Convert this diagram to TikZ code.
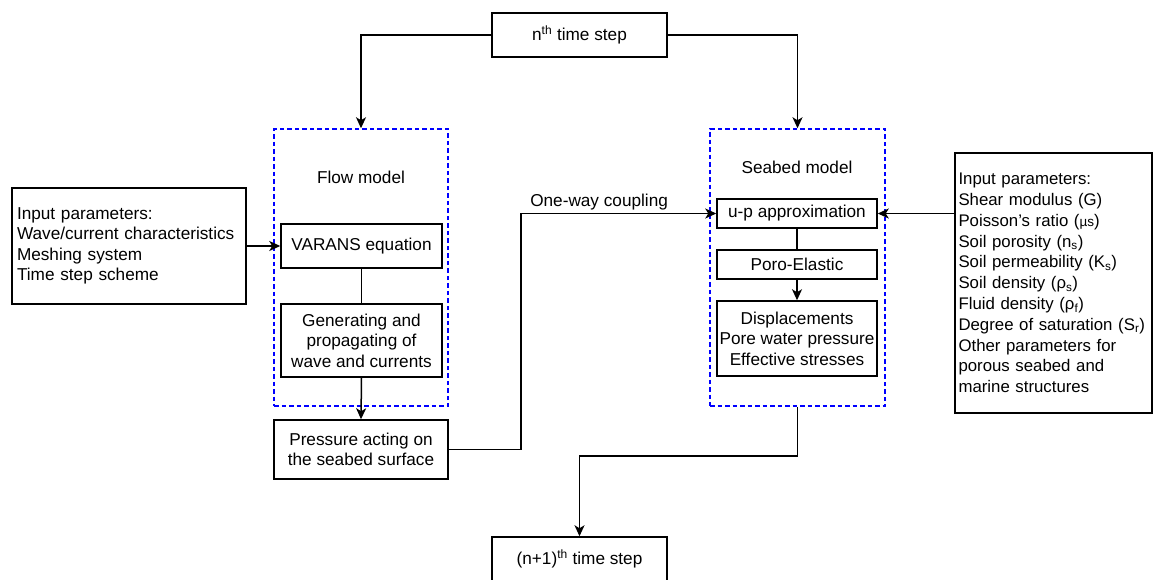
\documentclass[tikz,border=0pt]{standalone}
\usepackage{fontspec}
\setmainfont{Liberation Sans}
\usetikzlibrary{arrows.meta}

\begin{document}
\begin{tikzpicture}[x=1pt,y=-1pt,
    box/.style={draw,line width=1.5pt,inner sep=0pt,align=center,font=\fontsize{17.2}{20.5}\selectfont},
    model/.style={draw=blue,line width=1.5pt,dash pattern=on 4.5pt off 3pt,inner sep=0pt},
    label/.style={inner sep=0pt,font=\fontsize{17.2}{20.5}\selectfont},
    link/.style={line width=1.5pt},
    flow/.style={line width=1.5pt,-{Stealth[length=11pt,width=10pt,inset=3pt]}}]
    \useasboundingbox (0,0) rectangle (1153,579);

    \node (nth)  at (579.5,35)  [box,minimum width=175pt,minimum height=44pt] {n\textsuperscript{th} time step};
    \node (np1)  at (579.5,559) [box,minimum width=175pt,minimum height=44pt] {(n+1)\textsuperscript{th} time step};

    \node (flowbox)   at (361,267.5) [model,minimum width=174pt,minimum height=277pt] {};
    \node (flowlabel) at (361,177)   [label] {Flow model};
    \node (varans)    at (361.5,246) [box,minimum width=161pt,minimum height=44pt] {VARANS equation};
    \node (gen)       at (361.5,340.5) [box,minimum width=161pt,minimum height=73pt] {Generating and\\propagating of\\wave and currents};
    \node (press)     at (361,449.5) [box,minimum width=174pt,minimum height=59pt] {Pressure acting on\\the seabed surface};
    \node (inflow)    at (129,246)   [box,minimum width=234pt,minimum height=116pt,text width=224pt,align=left]
        {Input parameters:\\Wave/current characteristics\\Meshing system\\Time step scheme};

    \node (seabox)   at (797.5,267.5) [model,minimum width=175pt,minimum height=277pt] {};
    \node (sealabel) at (797,167)     [label] {Seabed model};
    \node (up)       at (797,213.5)   [box,minimum width=160pt,minimum height=29pt] {u-p approximation};
    \node (poro)     at (797,264.5)   [box,minimum width=160pt,minimum height=29pt] {Poro-Elastic};
    \node (disp)     at (797,338.5)   [box,minimum width=160pt,minimum height=75pt] {Displacements\\Pore water pressure\\Effective stresses};
    \node (inseabed) at (1053.5,283)  [box,minimum width=197pt,minimum height=260pt,text width=190pt,align=left,
        font=\fontsize{16.8}{20.8}\selectfont]
        {Input parameters:\\Shear modulus (G)\\Poisson's ratio ({\fontsize{13.5}{13.5}\selectfont µs})\\Soil porosity (n\textsubscript{s})\\
         Soil permeability (K\textsubscript{s})\\Soil density (ρ\textsubscript{s})\\Fluid density (ρ\textsubscript{f})\\
         Degree of saturation (S\textsubscript{r})\\Other parameters for\\porous seabed and\\marine structures};

    \coordinate (couple) at (521,449.5);
    \coordinate (turn)   at (797.5,456);

    \draw[flow] (nth.west) -| (flowbox.north);
    \draw[flow] (nth.east) -| (seabox.north);
    \draw[flow] (inflow.east) to (varans.west);
    \draw[link] (varans.south) to (gen.north);
    \draw[flow] (gen.south) to (press.north);
    \draw[flow] (press.east) -- (couple) |- (up.west)
        node[pos=0.70,above=3pt,label] {One-way coupling};
    \draw[flow] (inseabed.west |- up.east) to (up.east);
    \draw[link] (up.south) to (poro.north);
    \draw[flow] (poro.south) to (disp.north);
    \draw[flow] (seabox.south) -- (turn) -| (np1.north);

\end{tikzpicture}
\end{document}
